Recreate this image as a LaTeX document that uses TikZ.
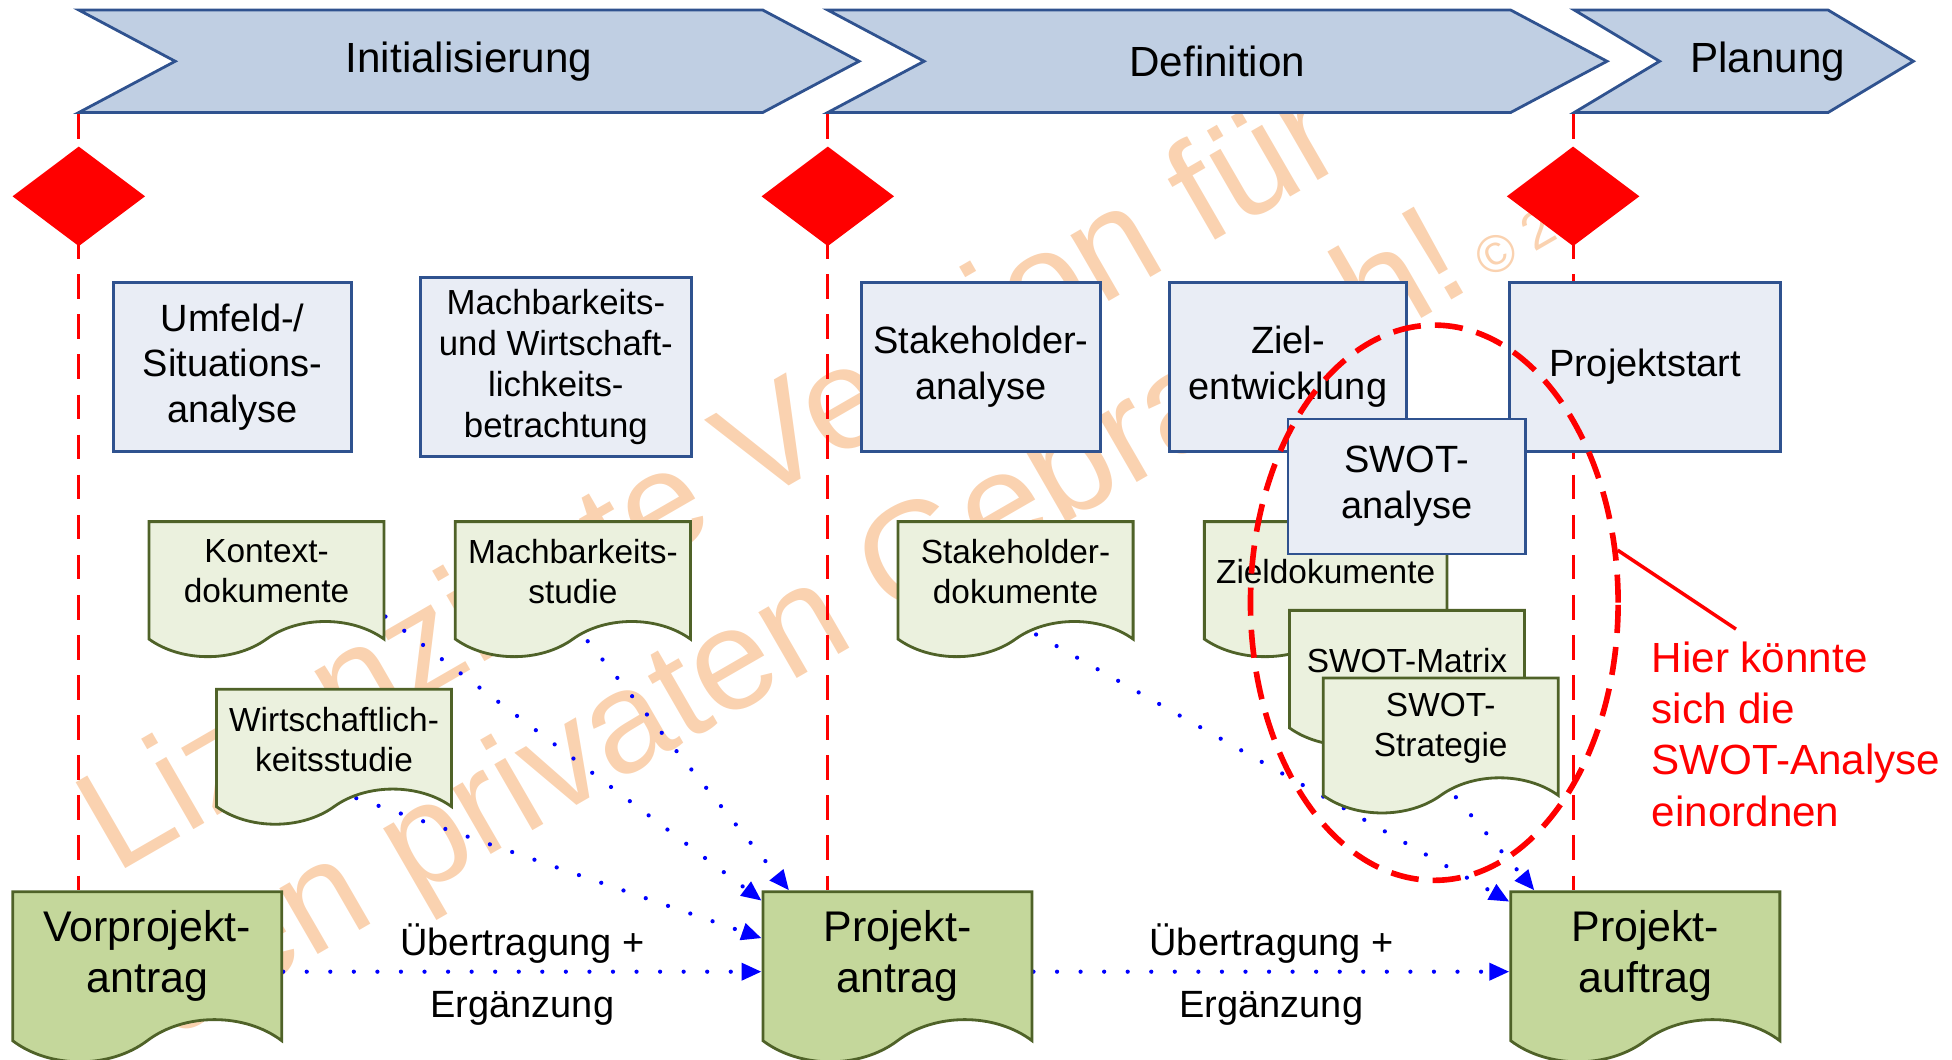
\documentclass[tikz,border=0pt]{standalone}
\usepackage{fontspec}
\setmainfont{Liberation Sans}
\usetikzlibrary{arrows.meta, positioning, shapes.geometric, shapes.symbols, calc}

\definecolor{phasefill}{RGB}{192,207,227}
\definecolor{phaseline}{RGB}{47,82,143}
\definecolor{taskfill}{RGB}{233,237,245}
\definecolor{docfill}{RGB}{235,241,222}
\definecolor{bigdocfill}{RGB}{196,215,155}
\definecolor{docline}{RGB}{79,98,40}
\definecolor{flowblue}{RGB}{0,0,255}
\definecolor{watermark}{RGB}{250,210,176}

\pgfdeclarelayer{wm}
\pgfdeclarelayer{back}
\pgfsetlayers{wm,back,main}

\tikzset{
    % Phases and milestones
    phase/.style={signal, signal to=east, signal from=west, signal pointer angle=56,
        draw=phaseline, fill=phasefill, line width=0.8pt, inner sep=0pt,
        minimum height=10.25mm, font=\fontsize{12}{14}\selectfont},
    milestone/.style={diamond, fill=red, inner sep=0pt, minimum width=13.3mm, minimum height=10mm},
    milestone line/.style={red, line width=0.9pt, dash pattern=on 7pt off 4.4pt},
    %
    % Tasks and documents
    task/.style={rectangle, draw=phaseline, fill=taskfill, line width=0.8pt, align=center,
        minimum width=23.75mm, minimum height=16.9mm, font=\fontsize{10.8}{13}\selectfont},
    doc/.style={tape, tape bend top=none, tape bend bottom=in and out, tape bend height=10pt,
        draw=docline, fill=docfill, line width=0.8pt, align=center, anchor=north west,
        minimum width=23.5mm, minimum height=13.5mm, font=\fontsize{9.5}{11.4}\selectfont},
    big doc/.style={doc, fill=bigdocfill, tape bend height=12pt, minimum width=26.9mm,
        minimum height=17mm, font=\fontsize{12.2}{14.6}\selectfont},
    %
    % Connectors and notes
    flow/.style={flowblue, line width=1.2pt, line cap=round, dash pattern=on 0pt off 6.7pt,
        -{Triangle[length=5.7pt,width=4.8pt]}},
    flow label/.style={black, yshift=-0.6mm, font=\fontsize{10.8}{13}\selectfont},
    ring/.style={ellipse, draw=red, line width=1.6pt, dash pattern=on 8pt off 4pt,
        minimum width=36.75mm, minimum height=55.5mm},
    hint/.style={red, align=left, anchor=west, font=\fontsize{12}{14.6}\selectfont},
    watermark text/.style={watermark, rotate=30, anchor=base west, inner sep=0pt,
        font=\fontsize{41}{46}\selectfont}
}

\begin{document}
\begin{tikzpicture}[x=0.125mm, y=-0.125mm]
    \useasboundingbox (0,0) rectangle (1561,847);

    % phases
    \node[phase, minimum width=78mm] (init) at (375,49) {Initialisierung};
    \node[phase, minimum width=77.9mm] (def) at (973.5,49) {Definition};
    \node[phase, minimum width=33.9mm, signal pointer angle=62] (plan) at (1394.5,49) {\hspace*{2.4mm}Planung\hspace*{-2.4mm}};

    % milestones
    \node[milestone] (ms1) at (63,157) {};
    \node[milestone] (ms2) at (662,157) {};
    \node[milestone] (ms3) at (1258,157) {};

    % tasks
    \node[task] (umfeld) at (186,293.5) {Umfeld-/\\Situations-\\analyse};
    \node[task, minimum width=27.1mm, font=\fontsize{9.9}{11.7}\selectfont] (machbar) at (444.5,293.5) {Machbarkeits-\\und Wirtschaft-\\lichkeits-\\betrachtung};
    \node[task] (stakeholder) at (784.5,293.5) {Stakeholder-\\analyse};
    \node[task] (ziel) at (1030,293.5) {Ziel-\\entwicklung};
    \node[task, minimum width=27.1mm] (start) at (1315.5,293.5) {Projektstart};

    % documents
    \node[doc] (kontext) at (118,416) {Kontext-\\dokumente};
    \node[doc] (studie) at (363,416) {Machbarkeits-\\studie};
    \node[doc] (wirtschaft) at (172,550) {Wirtschaftlich-\\keitsstudie};
    \node[doc] (stakedok) at (717,416) {Stakeholder-\\dokumente};
    \node[doc] (zieldok) at (962,416) {Zieldokumente};
    \node[task, minimum height=13.5mm] (swot) at (1125,389) {SWOT-\\analyse};
    \node[doc] (matrix) at (1030,487) {SWOT-Matrix};
    \node[doc] (strategie) at (1057,541) {SWOT-\\Strategie};

    % applications
    \node[big doc] (vorprojekt) at (9,712) {Vorprojekt-\\antrag};
    \node[big doc] (antrag) at (609,712) {Projekt-\\antrag};
    \node[big doc] (auftrag) at (1207,712) {Projekt-\\auftrag};

    % SWOT note
    \node[ring] (ring) at (1147,482) {};
    \node[hint] (hint) at (1311,587) {Hier könnte\\sich die\\SWOT-Analyse\\einordnen};
    \draw[red, line width=1pt] (ring.16) -- ([xshift=-6mm]hint.north);

    \begin{pgfonlayer}{back}
        \foreach \ms/\app in {ms1/vorprojekt, ms2/antrag, ms3/auftrag}
            \draw[milestone line] (\ms |- init.south) -- (\ms |- \app.north);
        \draw[flow] ([yshift=-1.6mm]vorprojekt.east) -- ([yshift=-1.6mm]antrag.west)
            node[midway, above, flow label] (ue1) {Übertragung +}
            node[midway, below, flow label] (erg1) {Ergänzung};
        \draw[flow] ([yshift=-1.6mm]antrag.east) -- ([yshift=-1.6mm]auftrag.west)
            node[midway, above, flow label] (ue2) {Übertragung +}
            node[midway, below, flow label] (erg2) {Ergänzung};
        \draw[flow] ([yshift=-4.5mm]kontext.east) -- ([yshift=5.5mm]antrag.west);
        \draw[flow] (studie.south) -- ([xshift=2.75mm]antrag.north west);
        \draw[flow] (wirtschaft.south) -- ([yshift=1.75mm]antrag.west);
        \draw[flow] (stakedok.south) -- ([yshift=5.4mm]auftrag.west);
        \draw[flow] (strategie.south) -- ([xshift=2.5mm]auftrag.north west);
    \end{pgfonlayer}

    \begin{pgfonlayer}{wm}
        \node[watermark text] (wm1) at (92,700) {Lizenzierte Version für};
        \node[watermark text] (wm2) at (136,832) {den privaten Gebrauch!{\fontsize{15}{18}\selectfont\ © 20}};
    \end{pgfonlayer}
\end{tikzpicture}
\end{document}
